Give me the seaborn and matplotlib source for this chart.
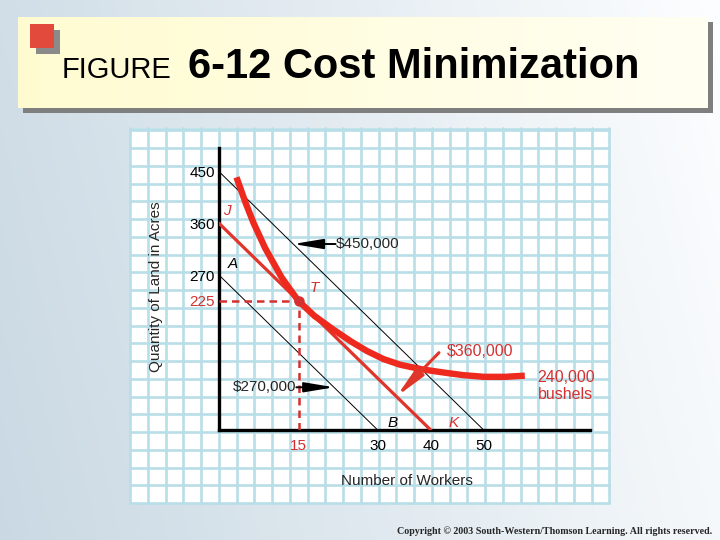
import matplotlib
matplotlib.use("Agg")
import matplotlib.pyplot as plt
from matplotlib.patches import Rectangle
import numpy as np
import pandas as pd
import seaborn as sns

# isocost lines: total cost, land intercept (acres), worker intercept
cost_labels = ["$270,000", "$360,000", "$450,000"]
land_intercepts = [270, 360, 450]
worker_intercepts = [30, 40, 50]

# 240,000-bushel isoquant, points
iso_workers = [3.3, 5.0, 6.5, 8.7, 11.8, 13.5, 15, 18, 21.6, 25, 27.9, 31, 34.2, 38.3, 42, 46, 50, 54, 57.7]
iso_land = [440, 396, 361, 317, 266, 244, 225, 199, 175, 154, 138, 124, 114, 106, 101, 96, 93, 93, 95]
iso_label = "240,000\nbushels"

# cost-minimizing point T
t_workers = 15
t_land = 225

x_ticks = [15, 30, 40, 50]
y_ticks = [225, 270, 360, 450]

RED = "#ee2a1e"
RED_LINE = "#e0352a"
RED_TEXT = "#d53030"

sns.set_theme(style="white")
plt.rcParams["font.family"] = ["Liberation Sans", "DejaVu Sans"]

fig = plt.figure(figsize=(7.2, 5.4), dpi=100)

# ---- slide background, title box and grid paper (pixel coords) ----
bg = fig.add_axes([0, 0, 1, 1])
bg.set_xlim(0, 720)
bg.set_ylim(540, 0)
bg.axis("off")

xx = np.linspace(0, 1, 256)
yy = np.linspace(0, 1, 64)
gx, gy = np.meshgrid(xx, yy)
t = np.clip(0.85 * gx + 0.15 * (1 - gy), 0, 1)[..., None]
left_c = np.array([0.79, 0.85, 0.89])
right_c = np.array([0.99, 0.995, 1.0])
bg.imshow(left_c + (right_c - left_c) * t, extent=[0, 720, 540, 0], aspect="auto", zorder=0)

# title box
bg.add_patch(Rectangle((23, 22), 690, 91, facecolor="#7f7f7f", edgecolor="none", zorder=1))
yel_l = np.array([1.0, 0.985, 0.82])
yel_r = np.array([1.0, 1.0, 0.95])
tb = np.meshgrid(np.linspace(0, 1, 128), np.ones(8))[0][..., None]
bg.imshow(yel_l + (yel_r - yel_l) * tb, extent=[18, 708, 108, 17], aspect="auto", zorder=2)
bg.add_patch(Rectangle((36, 30), 24, 24, facecolor="#8a8a8a", edgecolor="none", zorder=3))
bg.add_patch(Rectangle((30, 24), 24, 24, facecolor="#e24b3b", edgecolor="none", zorder=4))
bg.text(62, 78, "FIGURE", fontsize=21, color="black", va="baseline", zorder=5)
bg.text(188, 78, "6-12 Cost Minimization", fontsize=30, fontweight="bold",
        color="black", va="baseline", zorder=5)

# grid paper panel
bg.add_patch(Rectangle((130, 128), 479, 375, facecolor="white", edgecolor="none", zorder=1))
grid_c = "#b8dee7"
for gxp in 130 + 17.75 * np.arange(28):
    bg.plot([gxp, gxp], [128, 503], color=grid_c, lw=1.9, zorder=2)
for gyp in 503 - 17.75 * np.arange(22):
    bg.plot([130, 609], [gyp, gyp], color=grid_c, lw=1.9, zorder=2)
bg.plot([130, 609], [129, 129], color=grid_c, lw=1.9, zorder=2)

bg.text(156, 287, "Quantity of Land in Acres", rotation=90, fontsize=11,
        ha="center", va="center", zorder=5)
bg.text(407, 481, "Number of Workers", fontsize=11, ha="center", va="center", zorder=5)
bg.text(712, 531, "Copyright \u00a9 2003 South-Western/Thomson Learning. All rights reserved.",
        family="Liberation Serif", fontweight="bold", fontsize=7.2, ha="right", va="center", zorder=5)

# ---- chart ----
ax = fig.add_axes([219 / 720, (540 - 430.3) / 540, 371 / 720, 282.6 / 540])
ax.patch.set_alpha(0)
ax.set_xlim(0, 70)
ax.set_ylim(0, 491.5)

for label, land, workers in zip(cost_labels, land_intercepts, worker_intercepts):
    line_df = pd.DataFrame({"workers": [0, workers], "land": [land, 0]})
    if label == "$360,000":
        sns.lineplot(data=line_df, x="workers", y="land", color=RED_LINE, lw=2.3,
                     sort=False, ax=ax, zorder=3)
    else:
        sns.lineplot(data=line_df, x="workers", y="land", color="black", lw=0.7,
                     sort=False, ax=ax, zorder=2)

iso_df = pd.DataFrame({"workers": iso_workers, "land": iso_land})
sns.lineplot(data=iso_df, x="workers", y="land", color=RED, lw=4.6, sort=False,
             ax=ax, zorder=4, solid_capstyle="butt", solid_joinstyle="round")

# dashed guides to T
ax.plot([0, t_workers], [t_land, t_land], color=RED_TEXT, lw=1.8, ls=(0, (3, 2)), zorder=3)
ax.plot([t_workers, t_workers], [0, t_land], color=RED_TEXT, lw=1.8, ls=(0, (3, 2)), zorder=3)
ax.plot([t_workers], [t_land], "o", color=RED_TEXT, ms=6.5, zorder=5)

# cost labels and arrows
arrow_k = dict(arrowstyle="-|>,head_length=1.5,head_width=0.25", color="black", lw=1.4,
               mutation_scale=12, shrinkA=0, shrinkB=0)
ax.annotate("", xy=(14.0, 324), xytext=(22.0, 324), arrowprops=arrow_k, zorder=6)
ax.text(22.1, 324, cost_labels[2], fontsize=11, ha="left", va="center", zorder=6)
ax.annotate("", xy=(21.7, 74.8), xytext=(14.6, 74.8), arrowprops=arrow_k, zorder=6)
ax.text(14.5, 74.8, cost_labels[0], fontsize=11, ha="right", va="center", zorder=6)
arrow_r = dict(arrow_k, color=RED_LINE, lw=2.2)
ax.annotate("", xy=(33.45, 58.4), xytext=(41.5, 135), arrowprops=arrow_r, zorder=6)
ax.text(43.0, 136.7, cost_labels[1], fontsize=11.5, color=RED_TEXT, ha="left", va="center", zorder=6)
ax.text(65.4, 77, iso_label, fontsize=11.5, color=RED_TEXT, ha="center", va="center",
        multialignment="center", linespacing=1.15, zorder=6, clip_on=False)

# point letters
ax.text(1.5, 382, "J", fontsize=11, style="italic", color=RED_TEXT, ha="center", va="center")
ax.text(2.6, 290, "A", fontsize=11, style="italic", color="black", ha="center", va="center")
ax.text(17.9, 247, "T", fontsize=11, style="italic", color=RED_TEXT, ha="center", va="center")
ax.text(32.8, 13, "B", fontsize=11, style="italic", color="black", ha="center", va="center")
ax.text(44.2, 13, "K", fontsize=11, style="italic", color=RED_TEXT, ha="center", va="center")

# axes styling
sns.despine(ax=ax)
for side in ["left", "bottom"]:
    ax.spines[side].set_color("black")
    ax.spines[side].set_linewidth(2.4)
ax.set_xticks(x_ticks)
ax.set_xticklabels([str(v) for v in x_ticks])
ax.set_yticks(y_ticks)
ax.set_yticklabels([str(v) for v in y_ticks])
for lbl, v in zip(ax.get_xticklabels(), x_ticks):
    lbl.set_color(RED_TEXT if v == t_workers else "black")
for lbl, v in zip(ax.get_yticklabels(), y_ticks):
    lbl.set_color(RED_TEXT if v == t_land else "black")
ax.tick_params(axis="both", length=0, labelsize=11)
ax.tick_params(axis="x", pad=6)
ax.tick_params(axis="y", pad=3)
ax.set_xlabel("")
ax.set_ylabel("")
ax.grid(False)

fig.savefig("out.png", dpi=100)
